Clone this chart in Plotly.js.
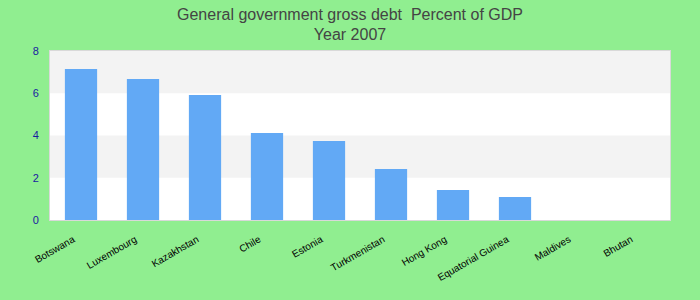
<!DOCTYPE html>
<html>
<head>
<meta charset="utf-8">
<script src="https://cdn.plot.ly/plotly-3.0.1.min.js"></script>
<style>
html,body{margin:0;padding:0;background:#90EE90;}
#chart{width:700px;height:300px;outline:2px solid #22e022;outline-offset:-2px;}
</style>
</head>
<body>
<div id="chart"></div>
<script>
var countries = ["Botswana","Luxembourg","Kazakhstan","Chile","Estonia","Turkmenistan","Hong Kong","Equatorial Guinea","Maldives","Bhutan"];
var debt = [7.15, 6.68, 5.92, 4.12, 3.74, 2.42, 1.42, 1.09, 0, 0];
var yTicks = [0, 2, 4, 6, 8];
var bands = [[2, 4], [6, 8]];

var shapes = bands.map(function(b){
  return {type:'rect', xref:'paper', yref:'y', x0:0, x1:1, y0:b[0], y1:b[1],
          fillcolor:'#f3f3f3', line:{width:0}, layer:'below'};
});

var data = [{
  type:'bar', x:countries, y:debt,
  marker:{color:'#62a9f5'}, hoverinfo:'x+y'
}];

var layout = {
  width:700, height:300,
  paper_bgcolor:'#90EE90', plot_bgcolor:'#ffffff',
  margin:{l:50, r:30, t:51, b:80},
  title:{text:'General government gross debt  Percent of GDP<br>Year 2007',
         font:{family:'Liberation Sans, Arial, sans-serif', size:16, color:'#444444', lineposition:'none'},
         x:0.5, xanchor:'center', y:0.935, yanchor:'middle', yref:'container'},
  bargap:0.48,
  showlegend:false,
  shapes:shapes,
  xaxis:{tickangle:-30, tickfont:{family:'Liberation Sans, Arial, sans-serif', size:10, color:'#000000'},
         showline:true, mirror:true, linecolor:'#d9d9d9', linewidth:1,
         showgrid:false, ticks:'', ticklabelstandoff:9, ticklabelshift:-8, fixedrange:true},
  yaxis:{range:[0,8], tickvals:yTicks, ticktext:yTicks.map(String),
         tickfont:{family:'Liberation Sans, Arial, sans-serif', size:11, color:'#1a1aa0'},
         showline:true, mirror:true, linecolor:'#d9d9d9', linewidth:1,
         showgrid:false, zeroline:false, ticks:'', ticklabelstandoff:8, fixedrange:true}
};

Plotly.newPlot('chart', data, layout, {displayModeBar:false, staticPlot:true});
</script>
</body>
</html>
